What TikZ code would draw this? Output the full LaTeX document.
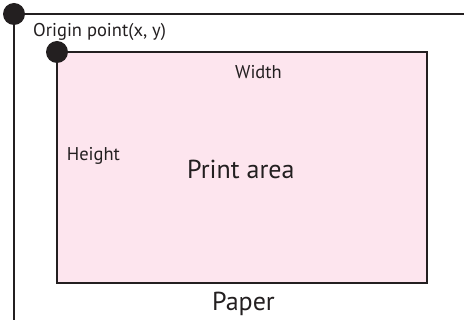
\documentclass[tikz,border=0pt]{standalone}
\usepackage{fontspec}
\setmainfont{PT Sans}
\definecolor{ink}{HTML}{231F20}
\definecolor{pinkfill}{RGB}{253,229,238}
\begin{document}
\begin{tikzpicture}[x=1pt,y=-1pt,
  edge/.style={draw=ink,line width=2pt},
  dotmark/.style={fill=ink},
  small/.style={text=ink,inner sep=0pt,font=\fontsize{18.5}{20}\selectfont},
  big/.style={text=ink,inner sep=0pt,font=\fontsize{26}{28}\selectfont}]
\useasboundingbox (0,0) rectangle (464,320);
\coordinate (po) at (14,14);
\coordinate (pr) at (465,14);
\coordinate (pb) at (14,321);
\coordinate (ao) at (57,52);
\coordinate (ab) at (427,283);
\filldraw[edge,fill=pinkfill] (ao) rectangle (ab);
\draw[edge] (pr) -- (po) -- (pb);
\fill[dotmark] (po) circle[radius=11];
\fill[dotmark] (ao) circle[radius=11];
\node[small,anchor=base west] (origin) at (33,36.5) {Origin point(x, y)};
\node[small,anchor=base west] (width) at (235,79) {Width};
\node[small,anchor=base west] (height) at (66.7,160.7) {Height};
\node[big,anchor=base west] (print) at (187,178.3) {Print area};
\node[big,anchor=base west] (paper) at (212,310.7) {Paper};
\end{tikzpicture}
\end{document}
